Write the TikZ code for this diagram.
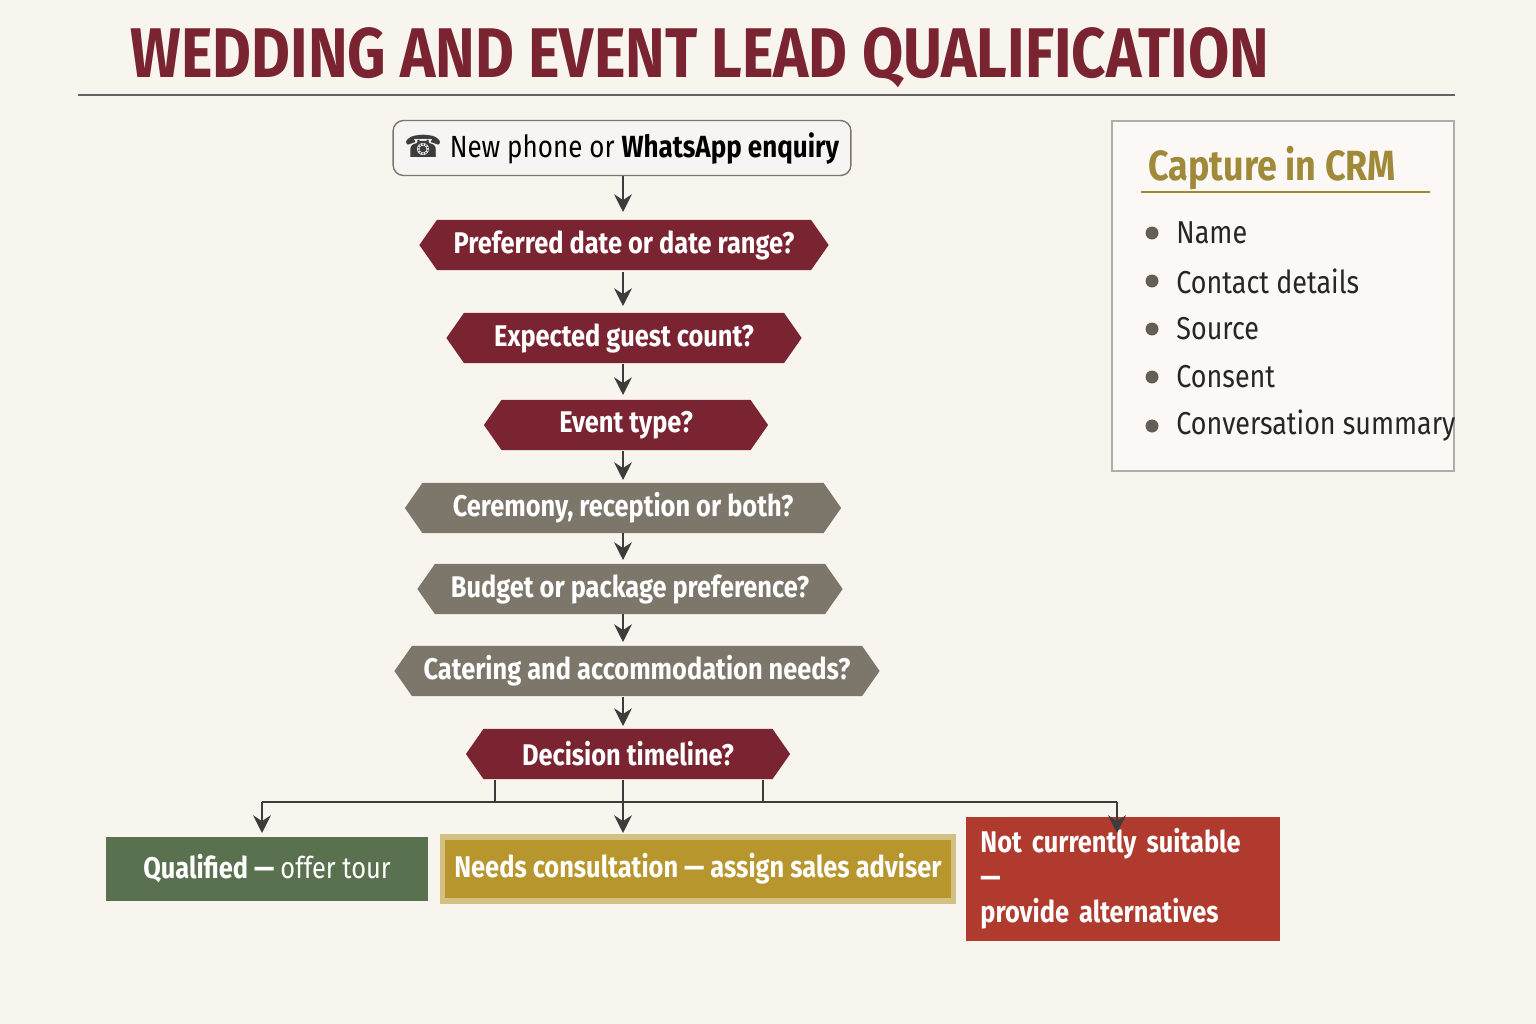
\documentclass[tikz,border=0pt]{standalone}
\usepackage{fontspec}
\setmainfont{Fira Sans}[FakeStretch=0.85]
\newfontfamily\symfont{DejaVu Sans}
\usetikzlibrary{shapes.symbols,arrows.meta,positioning}
\definecolor{bgcream}{RGB}{248,244,238}
\definecolor{wedmaroon}{RGB}{122,36,50}
\definecolor{wedgray}{RGB}{125,118,107}
\definecolor{wedgreen}{RGB}{90,113,80}
\definecolor{wedgold}{RGB}{184,150,46}
\definecolor{wedred}{RGB}{176,58,46}
\definecolor{crmgold}{RGB}{160,138,58}
\definecolor{linegray}{RGB}{60,60,60}

\begin{document}
\begin{tikzpicture}[x=0.01cm,y=-0.01cm,
        every node/.style={font=\fontsize{8.5}{10}\selectfont},
        question/.style={signal, signal to=east and west, signal pointer angle=110, draw=none, text=white, font=\fontsize{8.5}{10}\selectfont\bfseries, inner ysep=0pt, minimum height=0.5cm},
        outcome/.style={rectangle, text=white, font=\fontsize{8.5}{10}\selectfont\bfseries, minimum height=0.64cm},
        flow/.style={-{Stealth[length=5pt,width=5pt]}, thick, draw=linegray}
    ]
        \useasboundingbox (0,0) rectangle (1536,1024);
        \fill[bgcream] (0,0) rectangle (1536,1024);
        \node[font=\fontsize{20}{24}\selectfont\bfseries, text=wedmaroon] (title) at (700,58) {WEDDING AND EVENT LEAD QUALIFICATION};
        \draw[linegray!80] (78,95) -- (1455,95);

        % main column
        \node[rectangle, rounded corners=3pt, draw=wedgray, fill=bgcream!70!wedgray!20, minimum width=4.17cm, minimum height=0.55cm, font=\fontsize{8.7}{10}\selectfont] (enquiry) at (622,148) {{\symfont\color{linegray}\char"260E}\ New phone or \textbf{WhatsApp enquiry}};
        \node[question, fill=wedmaroon, minimum width=4.09cm] (date) at (624,245) {Preferred date or date range?};
        \node[question, fill=wedmaroon, minimum width=3.55cm] (guests) at (624,338) {Expected guest count?};
        \node[question, fill=wedmaroon, minimum width=2.84cm] (type) at (626,425) {Event type?};
        \node[question, fill=wedgray, minimum width=4.36cm] (ceremony) at (623,508) {Ceremony, reception or both?};
        \node[question, fill=wedgray, minimum width=4.25cm] (budget) at (630,589) {Budget or package preference?};
        \node[question, fill=wedgray, minimum width=4.71cm] (catering) at (637,671) {Catering and accommodation needs?};
        \node[question, fill=wedmaroon, minimum width=3.24cm] (timeline) at (628,754) {Decision timeline?};

        \draw[flow] (623,176) -- (623,212);
        \draw[flow] (623,272) -- (623,306);
        \draw[flow] (623,364) -- (623,395);
        \draw[flow] (623,451) -- (623,480);
        \draw[flow] (623,533) -- (623,560);
        \draw[flow] (623,614) -- (623,642);
        \draw[flow] (623,697) -- (623,726);

        % outcomes
        \node[outcome, fill=wedgreen, minimum width=3.22cm] (qualified) at (267,869) {Qualified — \textmd{offer tour}};
        \node[outcome, fill=wedgold, draw=wedgold!60!white, line width=1.5pt, minimum width=4.9cm] (consult) at (698,869) {Needs consultation — assign sales adviser};
        \node[outcome, fill=wedred, minimum width=3.13cm, minimum height=0.84cm, align=left, text width=2.85cm] (notsuit) at (1123,879) {Not currently suitable —\\provide alternatives};

        \coordinate (split) at (623,802);
        \draw[thick, linegray] (495,780) -- (495,802);
        \draw[thick, linegray] (763,780) -- (763,802);
        \draw[thick, linegray] (623,780) -- (split);
        \draw[thick, linegray] (262,802) -- (1117,802);
        \draw[flow] (262,802) -- (262,833);
        \draw[flow] (split) -- (623,833);
        \draw[flow] (1117,802) -- (1117,833);

        % CRM panel
        \node[rectangle, draw=wedgray!60, fill=bgcream!60!white, minimum width=3.42cm, minimum height=3.5cm] (crm) at (1283,296) {};
        \node[anchor=west, text=crmgold, font=\fontsize{12}{14}\selectfont\bfseries] (crmtitle) at (1136,168) {Capture in CRM};
        \draw[crmgold] (1141,192) -- (1430,192);
        \foreach \y/\entry in {233/Name, 281/Contact details, 329/Source, 377/Consent, 426/Conversation summary} {
            \fill[wedgray!80!black] (1152,\y) circle (6.5);
            \node[anchor=west, font=\fontsize{9}{11}\selectfont, text=black!85] at (1164,\y) {\entry};
        }
    \end{tikzpicture}
\end{document}
